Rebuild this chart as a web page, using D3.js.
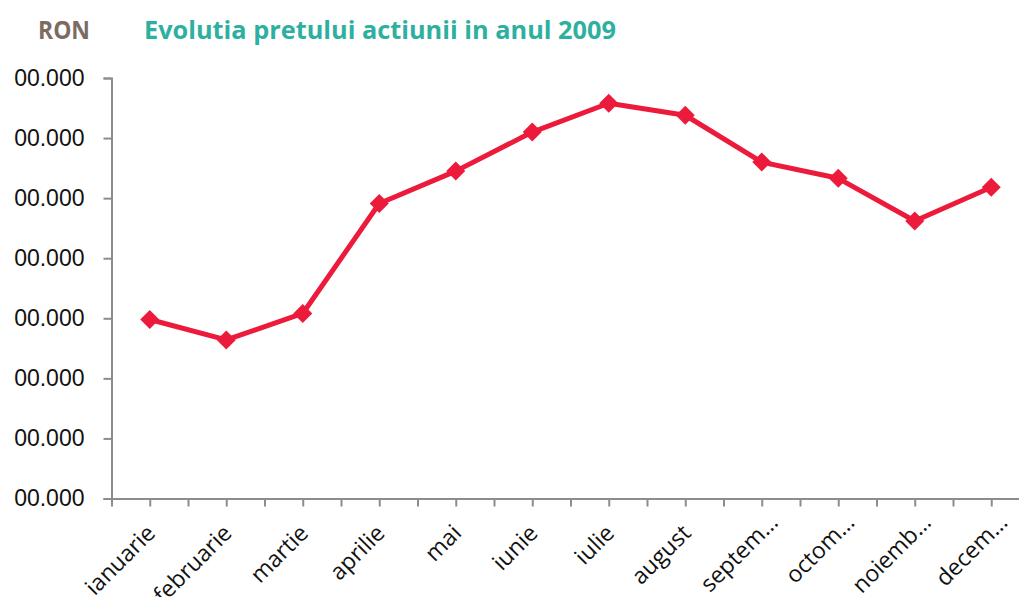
<!DOCTYPE html>
<html lang="ro">
<head>
    <meta charset="UTF-8">
    <title>Evolutia pretului actiunii in anul 2009</title>
    <script src="https://d3js.org/d3.v7.min.js"></script>
    <style>
        body { margin: 0; background: #fff; }
    </style>
</head>
<body>
    <script>
        // months as shown on the axis (Excel cut the long ones)
        var months = ["ianuarie", "februarie", "martie", "aprilie", "mai", "iunie",
                      "iulie", "august", "septem\u2026", "octom\u2026", "noiemb\u2026", "decem\u2026"];
        // price in grid units
        var prices = [2.98, 2.64, 3.08, 4.91, 5.45, 6.10, 6.58, 6.38, 5.60, 5.33, 4.62, 5.18];
        var yTicks = [0, 1, 2, 3, 4, 5, 6, 7];
        var yTickLabels = ["00.000", "00.000", "00.000", "00.000", "00.000", "00.000", "00.000", "00.000"];

        var w = 1019;
        var h = 597;
        var left = 111.5;
        var bottom = 498.5;
        var plotTop = 78;
        var band = 76.5;

        var svg = d3.select("body")
                    .append("svg")
                    .attr("width", w)
                    .attr("height", h);

        // titles
        svg.append("text")
            .attr("x", 38)
            .attr("y", 39)
            .attr("font-family", "'Open Sans', sans-serif")
            .attr("font-weight", 700)
            .attr("font-size", 25)
            .attr("textLength", 52)
            .attr("lengthAdjust", "spacingAndGlyphs")
            .attr("fill", "#7b6b62")
            .text("RON");

        svg.append("text")
            .attr("x", 144)
            .attr("y", 39)
            .attr("font-family", "'Open Sans', sans-serif")
            .attr("font-weight", 700)
            .attr("font-size", 25)
            .attr("textLength", 472)
            .attr("lengthAdjust", "spacingAndGlyphs")
            .attr("fill", "#2eb0a0")
            .text("Evolutia pretului actiunii in anul 2009");

        // scales
        var x = d3.scaleBand()
                  .domain(months)
                  .range([left, left + band * months.length]);

        var y = d3.scaleLinear()
                  .domain([0, 7])
                  .range([bottom, plotTop]);

        // half-category tick positions
        var xTick = d3.scaleLinear()
                      .domain([0, months.length * 2])
                      .range([left, left + band * months.length]);

        var axisColor = "#8c8c8c";

        // y axis
        var yAxis = svg.append("g")
            .attr("transform", "translate(" + left + ",0)")
            .call(d3.axisLeft(y)
                .tickValues(yTicks)
                .tickSize(8)
                .tickPadding(19)
                .tickFormat((d, i) => yTickLabels[i]));
        yAxis.select(".domain").attr("stroke", axisColor).attr("stroke-width", 2);
        yAxis.selectAll(".tick line").attr("stroke", axisColor).attr("stroke-width", 2);
        yAxis.selectAll(".tick text")
            .attr("font-family", "'Liberation Sans', Arial, sans-serif")
            .attr("font-size", 23)
            .attr("fill", "#111");

        // x axis
        var xAxis = svg.append("g")
            .attr("transform", "translate(0," + bottom + ")")
            .call(d3.axisBottom(xTick)
                .tickValues(d3.range(0, months.length * 2))
                .tickSize(8)
                .tickSizeOuter(0)
                .tickFormat(""));
        xAxis.select(".domain").attr("stroke", axisColor).attr("stroke-width", 2);
        xAxis.selectAll(".tick line").attr("stroke", axisColor).attr("stroke-width", 2);

        // month labels, rotated; the cut ones reach a bit further out
        svg.append("g")
            .selectAll("text")
            .data(months)
            .join("text")
            .attr("transform", d => "translate(" + (x(d) + x.bandwidth() / 2 + 7) + "," + (bottom + 36) + ") rotate(-45)")
            .attr("dx", d => d.endsWith("\u2026") ? 15 : 0)
            .attr("text-anchor", "end")
            .attr("font-family", "'Open Sans', sans-serif")
            .attr("font-size", 23)
            .attr("fill", "#111")
            .text(d => d);

        // price line
        var line = d3.line()
                     .x((d, i) => x(months[i]) + x.bandwidth() / 2)
                     .y(d => y(d));

        var red = "#ec1b3b";

        svg.append("path")
            .datum(prices)
            .attr("d", line)
            .attr("fill", "none")
            .attr("stroke", red)
            .attr("stroke-width", 5)
            .attr("stroke-linejoin", "round");

        svg.append("g")
            .selectAll("path")
            .data(prices)
            .join("path")
            .attr("d", d3.symbol().type(d3.symbolSquare).size(180))
            .attr("transform", (d, i) => "translate(" + (x(months[i]) + x.bandwidth() / 2) + "," + y(d) + ") rotate(45)")
            .attr("fill", red);
    </script>
</body>
</html>
